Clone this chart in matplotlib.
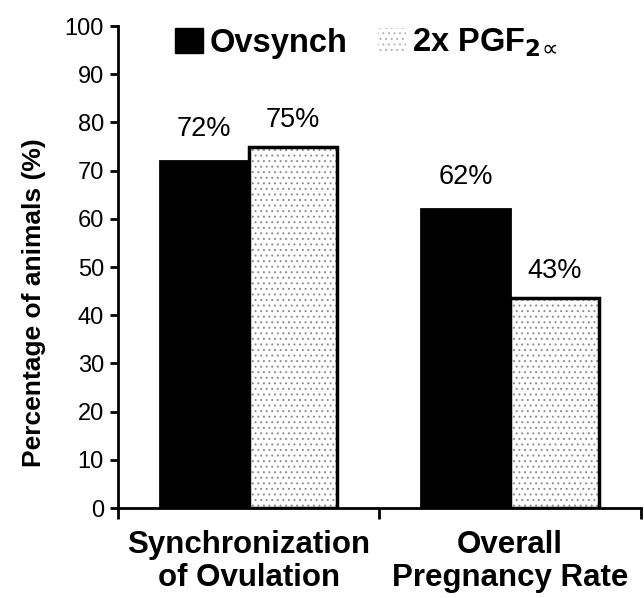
import matplotlib.pyplot as plt
from matplotlib.patches import Patch
import numpy as np

plt.rcParams['font.family'] = ['Liberation Sans', 'DejaVu Sans']
plt.rcParams['hatch.linewidth'] = 0.7

categories = ['Synchronization\nof Ovulation', 'Overall\nPregnancy Rate']
series = ['Ovsynch', r'2x PGF$_{\mathbf{2}\!\propto}$']
ovsynch = [72, 62]
pgf = [75, 43.5]
ovsynch_labels = ['72%', '62%']
pgf_labels = ['75%', '43%']

fig = plt.figure(figsize=(6.44, 5.98), dpi=100)
ax = fig.add_axes([0.183, 0.1505, 0.812, 0.806])

x = np.arange(len(categories))
w = 0.34

b1 = ax.bar(x - w / 2, ovsynch, w, color='black', edgecolor='black', linewidth=2)
# dotted fill, then a black outline on top
ax.bar(x + w / 2, pgf, w, color='white', edgecolor='#8c8c8c', hatch='...', linewidth=0)
b2 = ax.bar(x + w / 2, pgf, w, fill=False, edgecolor='black', linewidth=2.5)

for rect, lab in zip(b1, ovsynch_labels):
    ax.annotate(lab, (rect.get_x() + rect.get_width() / 2, rect.get_height()),
                xytext=(0, 14), textcoords='offset points', ha='center', va='bottom', fontsize=19.5)
for rect, lab in zip(b2, pgf_labels):
    ax.annotate(lab, (rect.get_x() + rect.get_width() / 2, rect.get_height()),
                xytext=(0, 10), textcoords='offset points', ha='center', va='bottom', fontsize=19.5)

ax.set_xlim(-0.5, 1.5)
ax.set_ylim(0, 100)
ax.set_yticks(range(0, 101, 10))
ax.tick_params(axis='y', labelsize=17, width=2, length=6, direction='out', pad=4)

ax.set_xticks([-0.5, 0.5, 1.5])
ax.set_xticklabels([])
ax.tick_params(axis='x', which='major', width=2, length=8, direction='out')
ax.set_xticks(x, minor=True)
ax.set_xticklabels(categories, minor=True, fontsize=22.5, fontweight='bold', linespacing=1.12)
ax.tick_params(axis='x', which='minor', length=0, pad=16)

ax.set_ylabel('Percentage of animals (%)', fontsize=19, fontweight='bold')
ax.yaxis.set_label_coords(-0.137, 0.427)

for s in ['top', 'right']:
    ax.spines[s].set_visible(False)
ax.spines['left'].set_linewidth(2)
ax.spines['bottom'].set_linewidth(2)

handles = [Patch(facecolor='black', edgecolor='black'),
           Patch(facecolor='white', edgecolor='#b0b0b0', hatch='...', linewidth=0)]
leg = ax.legend(handles, series, ncol=2, frameon=False, loc='center',
                bbox_to_anchor=(0.475, 0.965), prop={'size': 23.5, 'weight': 'bold'},
                handlelength=0.85, handleheight=0.8, handletextpad=0.2, columnspacing=0.95)

fig.savefig('out.png', dpi=100)
